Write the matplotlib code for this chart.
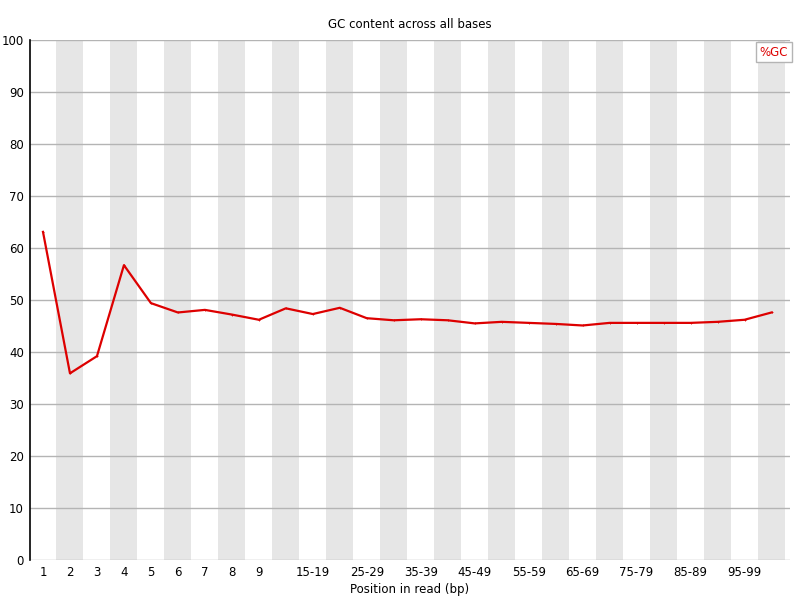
import matplotlib
matplotlib.use('Agg')
import matplotlib.pyplot as plt
import numpy as np

# positions along the read (FastQC style grouping)
positions = ['1', '2', '3', '4', '5', '6', '7', '8', '9',
             '10-14', '15-19', '20-24', '25-29', '30-34', '35-39',
             '40-44', '45-49', '50-54', '55-59', '60-64', '65-69',
             '70-74', '75-79', '80-84', '85-89', '90-94', '95-99', '100-101']
# labels that are actually printed on the x axis
shown_labels = ['1', '2', '3', '4', '5', '6', '7', '8', '9',
                '', '15-19', '', '25-29', '', '35-39', '', '45-49', '',
                '55-59', '', '65-69', '', '75-79', '', '85-89', '', '95-99', '']
gc_percent = [63.1, 35.9, 39.2, 56.7, 49.4, 47.6, 48.1, 47.2, 46.2,
              48.4, 47.3, 48.5, 46.5, 46.1, 46.3, 46.1, 45.5, 45.8,
              45.6, 45.4, 45.1, 45.6, 45.6, 45.6, 45.6, 45.8, 46.2, 47.6]

plt.rcParams['font.family'] = 'DejaVu Sans'

fig = plt.figure(figsize=(8, 6), dpi=100)
ax = fig.add_axes([29.5 / 800, 40 / 600, (790 - 29.5) / 800, 520 / 600])

x = np.arange(len(positions))

# alternating grey bands
for i in x:
    if i % 2 == 1:
        ax.axvspan(i - 0.5, i + 0.5, color='#e6e6e6', lw=0, zorder=0)

# horizontal grid lines
for yv in range(0, 101, 10):
    ax.axhline(yv, color='#b4b4b4', lw=1.0, zorder=1)

ax.plot(x, gc_percent, color='#dd0000', lw=1.6, zorder=3,
        marker='+', markersize=2, markeredgewidth=0.6)

ax.set_xlim(-0.5, len(positions) - 0.5 + 5 / 27)
ax.set_ylim(0, 100)

ax.set_xticks(x)
ax.set_xticklabels(shown_labels, fontsize=8.5)
ax.set_yticks(range(0, 101, 10))
ax.set_yticklabels([str(v) for v in range(0, 101, 10)], fontsize=8.5)
ax.tick_params(axis='both', length=0)
ax.tick_params(axis='x', pad=4)
ax.tick_params(axis='y', pad=4)

for s in ['top', 'right', 'bottom']:
    ax.spines[s].set_visible(False)
ax.spines['left'].set_color('black')
ax.spines['left'].set_linewidth(1.2)
ax.spines['left'].set_zorder(4)

ax.set_xlabel('Position in read (bp)', fontsize=8.5, labelpad=3)
fig.text(410 / 800, 1 - 25 / 600, 'GC content across all bases',
         ha='center', va='center', fontsize=8.5)

# legend box in the top right
fig.text(774 / 800, 1 - 52 / 600, '%GC', ha='center', va='center',
         fontsize=8.5, color='#dd0000',
         bbox=dict(boxstyle='square,pad=0.3', fc='white', ec='#b4b4b4', lw=1))

fig.savefig('out.png', dpi=100)
